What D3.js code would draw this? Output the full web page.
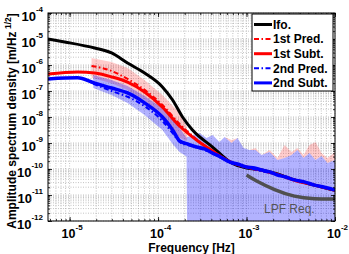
<!DOCTYPE html>
<html>
<head>
<meta charset="utf-8">
<script src="https://cdn.jsdelivr.net/npm/d3@7"></script>
<style>
  body { margin: 0; background: #fff; }
  svg { display: block; font-family: "Liberation Sans", Arial, Helvetica, sans-serif; }
</style>
</head>
<body>
<div id="chart"></div>
<script>
// [frequency Hz, ASD]
const ifo = [
  [5.7e-6, 1.0e-5], [8.78e-6, 7.7e-6], [1.92e-5, 4.5e-6], [2.98e-5, 2.9e-6],
  [4.52e-5, 1.2e-6], [7.04e-5, 4.9e-7], [1.12e-4, 1.43e-7], [1.46e-4, 4.5e-8],
  [1.89e-4, 1.0e-8], [2.45e-4, 3.16e-9], [4.13e-4, 7.0e-10], [6.77e-4, 1.7e-10],
  [1.0e-3, 1.09e-10], [1.48e-3, 9.2e-11], [2.24e-3, 6.4e-11], [3.48e-3, 3.8e-11],
  [5.86e-3, 2.4e-11], [1.0e-2, 1.5e-11]
];
const pred1 = [
  [1.77e-5, 9.2e-7], [2.98e-5, 5.9e-7], [4.52e-5, 2.9e-7], [7.04e-5, 1.1e-7],
  [1.12e-4, 2.9e-8], [1.75e-4, 5.4e-9], [2.72e-4, 1.4e-9], [4.13e-4, 4.9e-10],
  [6.77e-4, 1.8e-10], [1.0e-3, 1.15e-10], [2.24e-3, 6.2e-11], [5.86e-3, 2.4e-11],
  [1.0e-2, 1.5e-11]
];
const subt1 = [
  [5.7e-6, 4.5e-7], [1.23e-5, 5.4e-7], [1.92e-5, 4.9e-7], [2.98e-5, 3.5e-7],
  [4.52e-5, 2.2e-7], [7.04e-5, 9.2e-8], [1.12e-4, 2.4e-8], [1.75e-4, 4.5e-9],
  [2.72e-4, 1.3e-9], [4.13e-4, 4.9e-10], [6.77e-4, 1.8e-10], [1.0e-3, 1.2e-10],
  [1.48e-3, 9.0e-11], [2.24e-3, 6.2e-11], [3.48e-3, 3.7e-11], [5.86e-3, 2.4e-11],
  [1.0e-2, 1.5e-11]
];
const pred2 = [
  [1.85e-5, 1.9e-7], [2.98e-5, 1.0e-7], [4.52e-5, 6.0e-8], [7.04e-5, 2.6e-8],
  [1.12e-4, 7.0e-9], [1.46e-4, 2.4e-9], [1.75e-4, 1.1e-9], [2.15e-4, 8.4e-10],
  [2.72e-4, 6.8e-10], [4.13e-4, 4.0e-10], [6.43e-4, 1.8e-10], [1.0e-3, 1.15e-10],
  [2.24e-3, 5.9e-11], [5.86e-3, 2.4e-11], [1.0e-2, 1.5e-11]
];
const subt2 = [
  [5.7e-6, 2.9e-7], [1.23e-5, 3.2e-7], [1.92e-5, 2.0e-7], [2.98e-5, 1.3e-7],
  [4.52e-5, 8.4e-8], [7.04e-5, 3.5e-8], [1.12e-4, 1.0e-8], [1.46e-4, 3.2e-9],
  [1.75e-4, 1.2e-9], [2.15e-4, 9.2e-10], [2.72e-4, 7.0e-10], [3.35e-4, 5.9e-10],
  [4.13e-4, 4.1e-10], [5.08e-4, 2.9e-10], [6.43e-4, 1.86e-10], [7.91e-4, 1.56e-10],
  [1.0e-3, 1.19e-10], [1.23e-3, 1.09e-10], [1.48e-3, 9.2e-11], [1.82e-3, 7.7e-11],
  [2.24e-3, 5.9e-11], [2.76e-3, 4.9e-11], [3.48e-3, 3.8e-11], [4.52e-3, 3.2e-11],
  [5.86e-3, 2.4e-11], [7.61e-3, 2.0e-11], [1.0e-2, 1.56e-11]
];
// uncertainty bands: [frequency, lower, upper]
const band1 = [
  [1.77e-5, 3.2e-7, 1.86e-6], [2.98e-5, 2.0e-7, 1.3e-6], [4.52e-5, 1.1e-7, 7.7e-7],
  [7.04e-5, 4.5e-8, 2.65e-7], [1.12e-4, 9.2e-9, 7.0e-8], [1.75e-4, 1.6e-9, 1.43e-8],
  [2.1e-4, 1.2e-9, 4.5e-9], [2.15e-4, 1.7e-9, 1.7e-9], [2.6e-4, 2.1e-9, 2.1e-9],
  [2.94e-4, 2.42e-9, 2.42e-9], [3.53e-4, 1.56e-9, 1.56e-9], [4.13e-4, 2.03e-9, 2.03e-9],
  [4.95e-4, 1.09e-9, 1.09e-9], [5.64e-4, 1.7e-9, 1.7e-9], [6.77e-4, 1.0e-9, 1.3e-9],
  [7.91e-4, 1.56e-9, 1.56e-9], [9.25e-4, 6.42e-10, 6.42e-10], [1.08e-3, 5.38e-10, 5.38e-10],
  [1.26e-3, 5.38e-10, 6.42e-10], [1.48e-3, 3.46e-10, 3.46e-10], [1.82e-3, 4.51e-10, 5.38e-10],
  [2.24e-3, 2.22e-10, 2.65e-10], [2.69e-3, 2.65e-10, 8.4e-10], [3.23e-3, 3.46e-10, 4.51e-10],
  [3.77e-3, 5.38e-10, 6.42e-10], [4.41e-3, 2.65e-10, 3.46e-10], [5.15e-3, 4.13e-10, 8.4e-10],
  [6.02e-3, 2.22e-10, 1.1e-9], [7.04e-3, 3.16e-10, 4.13e-10], [8.23e-3, 1.7e-10, 2.65e-10],
  [1.0e-2, 2.22e-10, 4.51e-10]
];
const band2 = [
  [1.85e-5, 1.3e-7, 4.13e-7], [2.98e-5, 7.0e-8, 2.65e-7], [4.52e-5, 3.46e-8, 1.56e-7],
  [7.04e-5, 1.19e-8, 6.42e-8], [1.12e-4, 3.16e-9, 2.22e-8], [1.46e-4, 9.2e-10, 9.15e-9],
  [1.75e-4, 4.5e-10, 3.78e-9], [2.1e-4, 3.0e-10, 1.6e-9], [2.15e-4, 1e-14, 1.7e-9],
  [2.6e-4, 1e-14, 2.1e-9], [2.94e-4, 1e-14, 2.42e-9], [3.53e-4, 1e-14, 1.56e-9],
  [4.13e-4, 1e-14, 2.03e-9], [4.95e-4, 1e-14, 1.09e-9], [5.64e-4, 1e-14, 1.7e-9],
  [6.77e-4, 1e-14, 1.0e-9], [7.91e-4, 1e-14, 1.56e-9], [9.25e-4, 1e-14, 6.42e-10],
  [1.08e-3, 1e-14, 5.38e-10], [1.26e-3, 1e-14, 5.38e-10], [1.48e-3, 1e-14, 3.46e-10],
  [1.82e-3, 1e-14, 4.51e-10], [2.24e-3, 1e-14, 2.22e-10], [2.69e-3, 1e-14, 2.65e-10],
  [3.23e-3, 1e-14, 3.46e-10], [3.77e-3, 1e-14, 5.38e-10], [4.41e-3, 1e-14, 2.65e-10],
  [5.15e-3, 1e-14, 4.13e-10], [6.02e-3, 1e-14, 2.22e-10], [7.04e-3, 1e-14, 3.16e-10],
  [8.23e-3, 1e-14, 1.7e-10], [1.0e-2, 1e-14, 2.22e-10]
];
const lpfReq = [
  [1.0e-3, 5.9e-11], [1.26e-3, 3.6e-11], [2.07e-3, 1.56e-11], [3.48e-3, 8.4e-12],
  [5.86e-3, 7.0e-12], [1.0e-2, 7.0e-12]
];

const xTickExps = [-5, -4, -3, -2];
const yTickExps = [-12, -11, -10, -9, -8, -7, -6, -5, -4];
const legendNames = ['Ifo.', '1st Pred.', '1st Subt.', '2nd Pred.', '2nd Subt.'];

const width = 349, height = 254;
const m = { left: 48, right: 335, top: 13, bottom: 221 };

const svg = d3.select('#chart').append('svg')
  .attr('width', width)
  .attr('height', height);

const x = d3.scaleLog().domain([5.7e-6, 1e-2]).range([m.left, m.right]);
const y = d3.scaleLog().domain([1e-12, 1e-4]).range([m.bottom, m.top]);

const minorTicks = (scale, e0, e1) => {
  const out = [];
  const [lo, hi] = scale.domain();
  d3.range(e0, e1 + 1).forEach(e => {
    d3.range(1, 10).forEach(k => {
      const v = k * Math.pow(10, e);
      if (v >= lo * 0.999 && v <= hi * 1.001) out.push(v);
    });
  });
  return out;
};
const xMinor = minorTicks(x, -6, -2);
const yMinor = minorTicks(y, -12, -4);
const xMajor = xTickExps.map(e => Math.pow(10, e));
const yMajor = yTickExps.map(e => Math.pow(10, e));

svg.append('defs').append('clipPath').attr('id', 'plot-clip')
  .append('rect').attr('x', m.left).attr('y', m.top)
  .attr('width', m.right - m.left).attr('height', m.bottom - m.top);

// dotted grid
const grid = svg.append('g')
  .attr('stroke', '#9a9a9a')
  .attr('stroke-width', 0.6)
  .attr('stroke-dasharray', '1,1.5');
grid.selectAll('.gx').data(xMinor).join('line')
  .attr('class', 'gx')
  .attr('x1', d => x(d)).attr('x2', d => x(d))
  .attr('y1', m.top).attr('y2', m.bottom);
grid.selectAll('.gy').data(yMinor).join('line')
  .attr('class', 'gy')
  .attr('x1', m.left).attr('x2', m.right)
  .attr('y1', d => y(d)).attr('y2', d => y(d));

const plot = svg.append('g').attr('clip-path', 'url(#plot-clip)');

const area = d3.area()
  .x(d => x(d[0]))
  .y0(d => y(d[1]))
  .y1(d => y(d[2]));

plot.append('path').datum(band1)
  .attr('d', area)
  .attr('fill', '#ff0000')
  .attr('fill-opacity', 0.2);
plot.append('path').datum(band2)
  .attr('d', area)
  .attr('fill', '#0000ff')
  .attr('fill-opacity', 0.3);

const line = d3.line()
  .x(d => x(d[0]))
  .y(d => y(d[1]))
  .curve(d3.curveMonotoneX);

const lpfLine = d3.line()
  .x(d => x(d[0]))
  .y(d => y(d[1]))
  .curve(d3.curveBasis);

plot.append('path').datum(lpfReq)
  .attr('d', lpfLine)
  .attr('fill', 'none')
  .attr('stroke', '#505050')
  .attr('stroke-width', 3.5);

const styles = [
  { data: ifo, color: '#000', w: 3, dash: null },
  { data: pred1, color: '#ff0000', w: 2, dash: '5,2.5,1.5,2.5' },
  { data: subt1, color: '#ff0000', w: 3, dash: null },
  { data: pred2, color: '#0000ff', w: 2, dash: '5,2.5,1.5,2.5' },
  { data: subt2, color: '#0000ff', w: 3.5, dash: null }
];
styles.forEach(s => {
  plot.append('path').datum(s.data)
    .attr('d', line)
    .attr('fill', 'none')
    .attr('stroke', s.color)
    .attr('stroke-width', s.w)
    .attr('stroke-dasharray', s.dash)
    .attr('stroke-linejoin', 'round');
});

svg.append('text')
  .attr('x', 264).attr('y', 212.5)
  .attr('font-size', 12)
  .attr('fill', '#555')
  .text('LPF Req.');

// ticks pointing inward on all four sides
const tickGroup = (axis, tx, ty, values, size) => {
  const g = svg.append('g')
    .attr('transform', `translate(${tx},${ty})`)
    .call(axis.tickValues(values).tickSizeInner(size).tickSizeOuter(0).tickFormat(''));
  g.select('.domain').remove();
  g.selectAll('line').attr('stroke', '#000').attr('stroke-width', 0.8);
};
tickGroup(d3.axisBottom(x), 0, m.bottom, xMinor, -2);
tickGroup(d3.axisBottom(x), 0, m.bottom, xMajor, -4);
tickGroup(d3.axisTop(x), 0, m.top, xMinor, -2);
tickGroup(d3.axisTop(x), 0, m.top, xMajor, -4);
tickGroup(d3.axisLeft(y), m.left, 0, yMinor, -2);
tickGroup(d3.axisLeft(y), m.left, 0, yMajor, -4);
tickGroup(d3.axisRight(y), m.right, 0, yMinor, -2);
tickGroup(d3.axisRight(y), m.right, 0, yMajor, -4);

svg.append('rect')
  .attr('x', m.left).attr('y', m.top)
  .attr('width', m.right - m.left).attr('height', m.bottom - m.top)
  .attr('fill', 'none')
  .attr('stroke', '#000')
  .attr('stroke-width', 1);

// tick labels
svg.append('g').selectAll('text').data(xTickExps).join('text')
  .attr('x', d => x(Math.pow(10, d)) - 8)
  .attr('y', 238)
  .attr('font-size', 12.5)
  .attr('font-weight', 'bold')
  .call(t => {
    t.append('tspan').text('10');
    t.append('tspan').attr('dy', -8.5).attr('font-size', 8).text(d => d);
  });

svg.append('g').selectAll('text').data(yTickExps).join('text')
  .attr('x', 43)
  .attr('y', d => y(Math.pow(10, d)) + 7.5)
  .attr('text-anchor', 'end')
  .attr('font-size', 13)
  .attr('font-weight', 'bold')
  .call(t => {
    t.append('tspan').text('10');
    t.append('tspan').attr('dy', -9).attr('font-size', 8).text(d => d);
  });

svg.append('text')
  .attr('x', (m.left + m.right) / 2)
  .attr('y', 252)
  .attr('text-anchor', 'middle')
  .attr('font-size', 12)
  .attr('font-weight', 'bold')
  .text('Frequency [Hz]');

svg.append('text')
  .attr('transform', 'translate(16,121) rotate(-90)')
  .attr('text-anchor', 'middle')
  .attr('font-size', 12)
  .attr('font-weight', 'bold')
  .call(t => {
    t.append('tspan').text('Amplitude spectrum density [m/Hz');
    t.append('tspan').attr('dy', -5).attr('font-size', 8.5).text(' 1/2');
    t.append('tspan').attr('dy', 5).text(']');
  });

// legend
const legend = svg.append('g');
legend.append('rect')
  .attr('x', 252).attr('y', 14)
  .attr('width', 81).attr('height', 77)
  .attr('fill', '#fff')
  .attr('stroke', '#000')
  .attr('stroke-width', 1);
const items = legend.selectAll('.item').data(legendNames).join('g')
  .attr('transform', (d, i) => `translate(0,${24.5 + i * 14.6})`);
items.append('line')
  .attr('x1', 254).attr('x2', 272)
  .attr('stroke', (d, i) => styles[i].color)
  .attr('stroke-width', (d, i) => Math.min(styles[i].w, 3))
  .attr('stroke-dasharray', (d, i) => styles[i].dash);
items.append('text')
  .attr('x', 273).attr('y', 4.3)
  .attr('font-size', 12)
  .attr('font-weight', 'bold')
  .text(d => d);
</script>
</body>
</html>
